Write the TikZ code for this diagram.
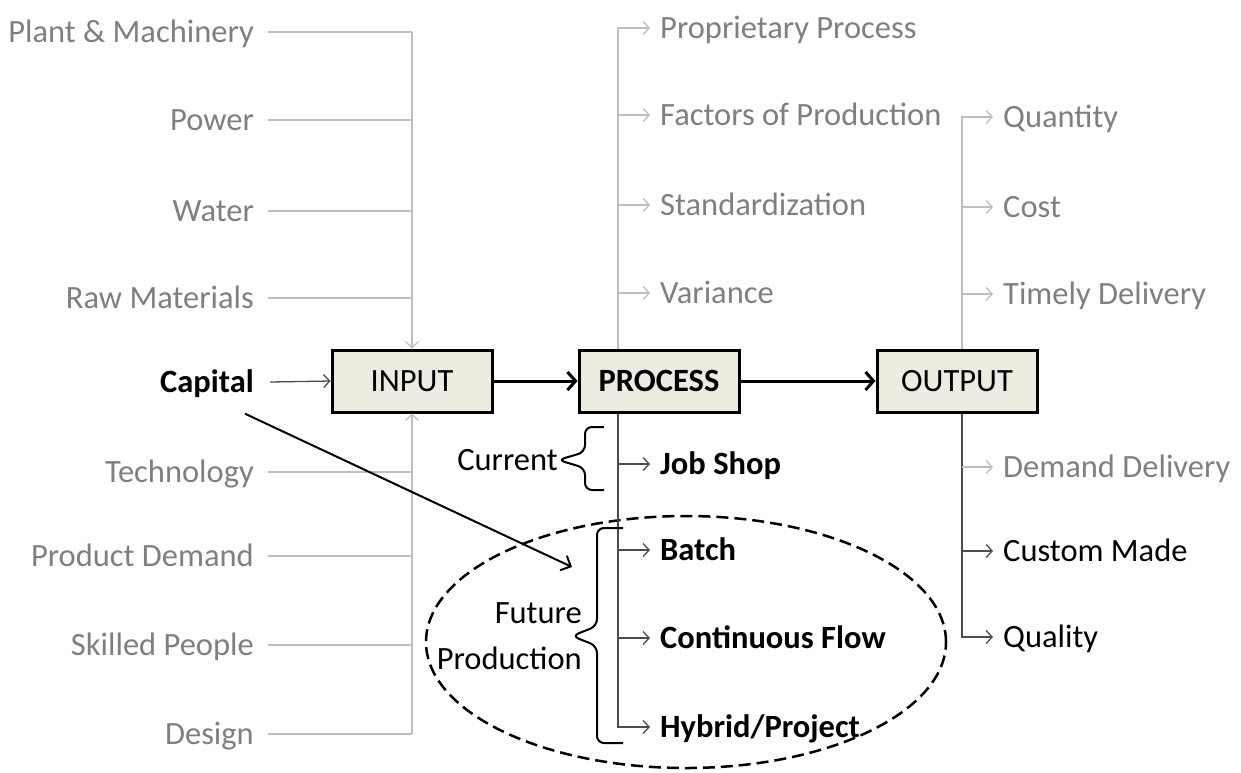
\documentclass[tikz,border=0pt]{standalone}
\usepackage{fontspec}
\setmainfont{Carlito}
\usepackage{tikz}
\usetikzlibrary{arrows.meta, positioning, shapes.geometric}
\definecolor{txtgrey}{HTML}{7F7F7F}
\definecolor{lgrey}{HTML}{BFBFBF}
\definecolor{dgrey}{HTML}{4D4D4D}
\definecolor{boxfill}{HTML}{EEECE1}
\newcommand{\bigfont}{\fontsize{32.5}{46}\selectfont}
\tikzstyle{lnode} = [anchor=east, inner sep=0, text height=21pt, text depth=0pt, text=txtgrey]
\tikzstyle{rnode} = [anchor=west, inner sep=0, text height=21pt, text depth=0pt, text=txtgrey]
\tikzstyle{bnode} = [anchor=west, inner sep=0, text height=21pt, text depth=0pt, font=\bigfont\bfseries]
\tikzstyle{stage} = [draw, line width=3pt, fill=boxfill, minimum width=160pt, minimum height=62pt, inner sep=0]
\tikzstyle{gline} = [draw=lgrey, line width=1.3pt]
\tikzstyle{garrow} = [draw=lgrey, line width=1.3pt, -{Straight Barb[length=6pt,width=13pt]}]
\tikzstyle{darrow} = [draw=dgrey, line width=1.3pt, -{Straight Barb[length=6pt,width=13pt]}]
\tikzstyle{flow} = [draw, line width=3pt, -{Straight Barb[length=8pt,width=18pt]}]
\tikzstyle{brace} = [draw, line width=2pt, rounded corners=7pt]

\begin{document}
\begin{tikzpicture}[x=1pt, y=-1pt, font=\bigfont]
			\useasboundingbox (0,0) rectangle (1241,772);
			% main boxes
			\node [stage] (input) at (412, 381) {INPUT};
			\node [stage, font=\bigfont\bfseries] (process) at (659, 381) {PROCESS};
			\node [stage] (output) at (957, 381) {OUTPUT};
			\coordinate (pspine) at (618, 0);
			\coordinate (ospine) at (962, 0);
			
			% inputs
			\node [lnode] (plant) at (254, 32) {Plant \& Machinery};
			\node [lnode] (power) at (254, 120) {Power};
			\node [lnode] (water) at (254, 211) {Water};
			\node [lnode] (raw) at (254, 298) {Raw Materials};
			\node [lnode, text=black, font=\bigfont\bfseries] (capital) at (254, 382) {Capital};
			\node [lnode] (tech) at (254, 472) {Technology};
			\node [lnode] (demand) at (254, 556) {Product Demand};
			\node [lnode] (skilled) at (254, 645) {Skilled People};
			\node [lnode] (design) at (254, 734) {Design};
			
			% process side
			\node [rnode] (prop) at (660, 28) {Proprietary Process};
			\node [rnode] (factors) at (660, 115) {Factors of Production};
			\node [rnode] (standard) at (660, 205) {Standardization};
			\node [rnode] (variance) at (660, 293) {Variance};
			\node [bnode] (job) at (660, 464) {Job Shop};
			\node [bnode] (batch) at (660, 550) {Batch};
			\node [bnode] (cont) at (660, 638) {Continuous Flow};
			\node [bnode] (hybrid) at (660, 727) {Hybrid/Project};
			\node [anchor=east, inner sep=0, text height=21pt, text depth=0pt] (current) at (558, 460) {Current};
			\node [anchor=east, inner sep=0, align=right] (future) at (582, 636) {Future\\Production};
			
			% output side
			\node [rnode] (quantity) at (1003, 117) {Quantity};
			\node [rnode] (cost) at (1003, 207) {Cost};
			\node [rnode] (timely) at (1003, 294) {Timely Delivery};
			\node [rnode] (ddelivery) at (1003, 467) {Demand Delivery};
			\node [rnode, text=black] (custom) at (1003, 551) {Custom Made};
			\node [rnode, text=black] (quality) at (1003, 637) {Quality};
			
			% future ellipse
			\node [draw, ellipse, line width=2.5pt, dash pattern=on 12pt off 6pt, minimum width=520pt, minimum height=252pt] (fut) at (686, 642) {};
			
			\path [gline] ([xshift=14pt]plant.east) -- (plant -| input);
			\path [gline] ([xshift=14pt]power.east) -- (power -| input);
			\path [gline] ([xshift=14pt]water.east) -- (water -| input);
			\path [gline] ([xshift=14pt]raw.east) -- (raw -| input);
			\path [garrow] (plant -| input) -- (input.north);
			\path [gline] ([xshift=14pt]tech.east) -- (tech -| input);
			\path [gline] ([xshift=14pt]demand.east) -- (demand -| input);
			\path [gline] ([xshift=14pt]skilled.east) -- (skilled -| input);
			\path [gline] ([xshift=14pt]design.east) -- (design -| input);
			\path [garrow] (design -| input) -- (input.south);
			\path [darrow] ([xshift=16pt]capital.east) -- (input.west);
			
			\path [flow] (input) -- (process);
			\path [flow] (process) -- (output);
			
			\path [garrow] (process.north -| pspine) |- ([xshift=-10pt]prop.west);
			\path [garrow] (factors.west -| pspine) -- ([xshift=-10pt]factors.west);
			\path [garrow] (standard.west -| pspine) -- ([xshift=-10pt]standard.west);
			\path [garrow] (variance.west -| pspine) -- ([xshift=-10pt]variance.west);
			\path [darrow] (process.south -| pspine) |- ([xshift=-10pt]hybrid.west);
			\path [darrow] (job.west -| pspine) -- ([xshift=-10pt]job.west);
			\path [darrow] (batch.west -| pspine) -- ([xshift=-10pt]batch.west);
			\path [darrow] (cont.west -| pspine) -- ([xshift=-10pt]cont.west);
			
			\path [garrow] (output.north -| ospine) |- ([xshift=-10pt]quantity.west);
			\path [garrow] (cost.west -| ospine) -- ([xshift=-10pt]cost.west);
			\path [garrow] (timely.west -| ospine) -- ([xshift=-10pt]timely.west);
			\path [darrow] (output.south -| ospine) |- ([xshift=-10pt]quality.west);
			\path [garrow] (ddelivery.west -| ospine) -- ([xshift=-10pt]ddelivery.west);
			\path [darrow] (custom.west -| ospine) -- ([xshift=-10pt]custom.west);
			
			% braces
			\path [brace] (604, 427) -- (585, 427) -- (585, 452) -- (current.east) -- (585, 468) -- (585, 490) -- (604, 490);
			\path [brace] (623, 528) -- (597, 528) -- (597, 626) -- (572, 636) -- (597, 646) -- (597, 743) -- (623, 743);
			
			\coordinate (target) at (572, 567);
			\path [draw, line width=2pt, -{Straight Barb[length=8pt,width=16pt]}] ([shift={(-9pt,-21pt)}]capital.south east) -- (target);
		\end{tikzpicture}
\end{document}
